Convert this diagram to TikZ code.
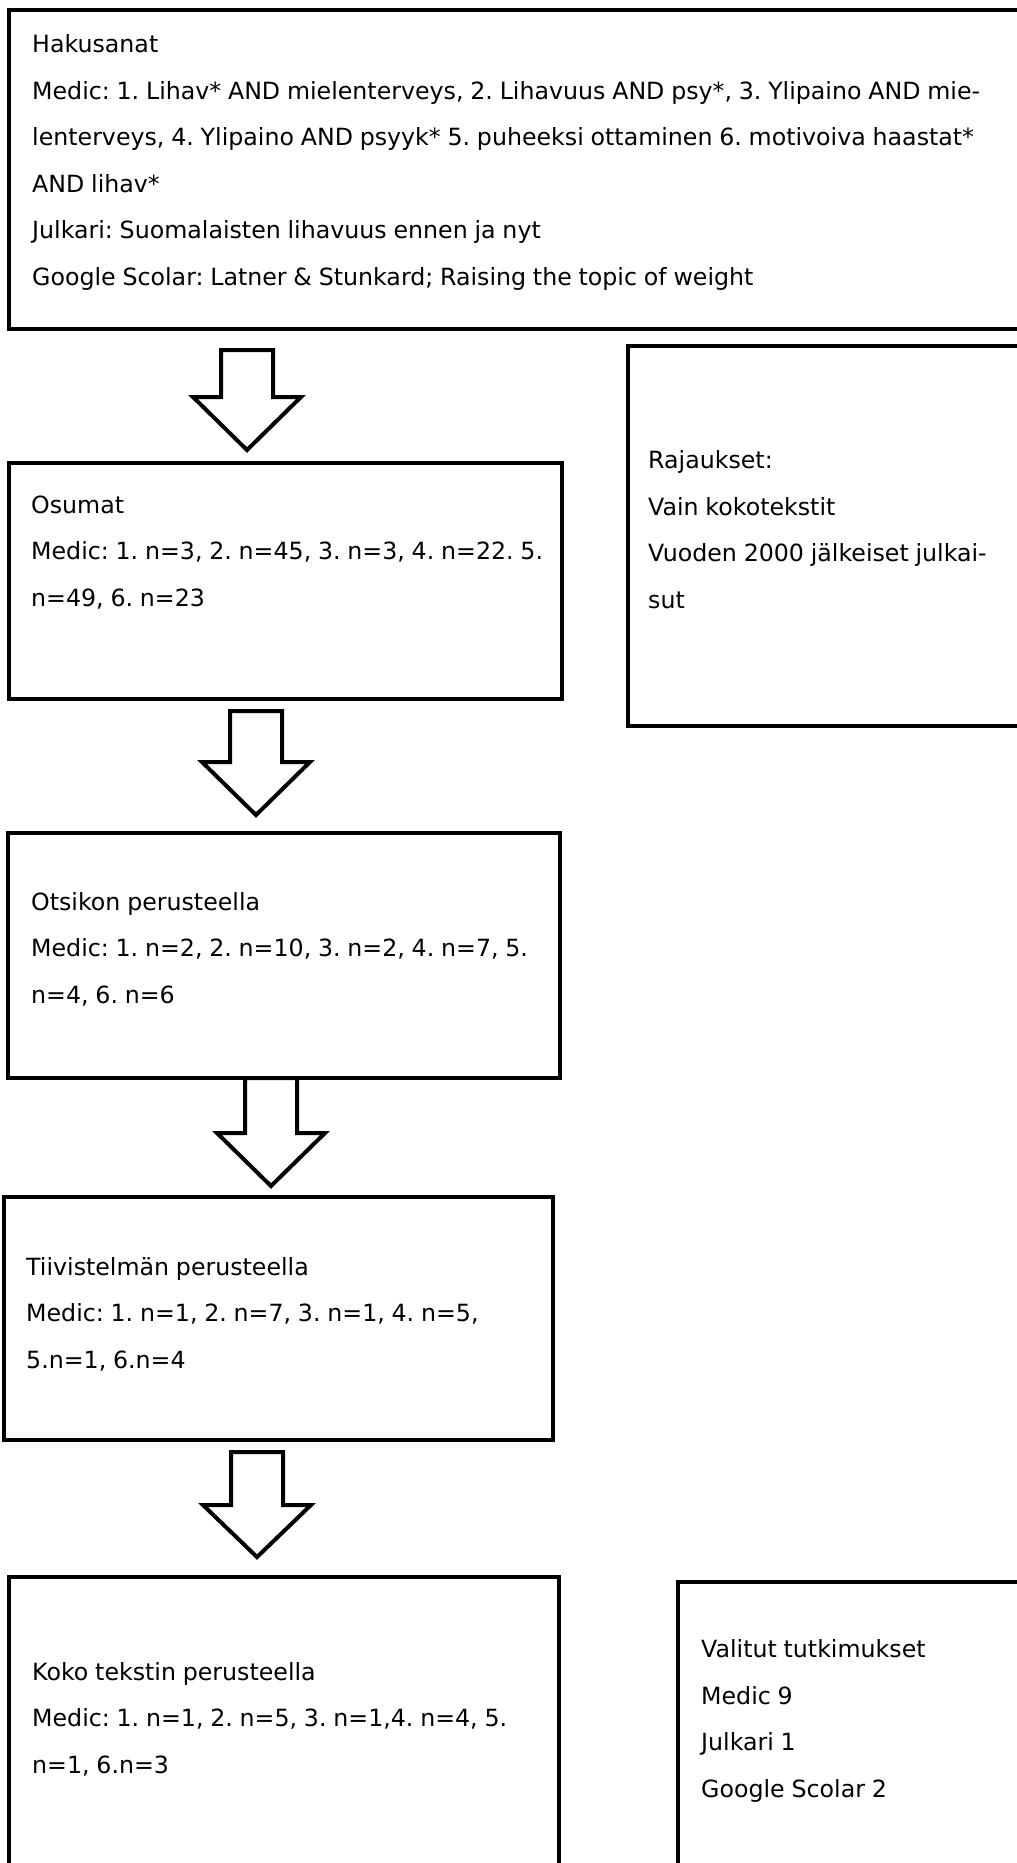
\documentclass[tikz,border=0pt]{standalone}
\usepackage{fontspec}
\setmainfont{DejaVu Sans}[WordSpace=0.9]
\frenchspacing
\usetikzlibrary{positioning}
% block arrow: centre x, top, head line, tip
\newcommand{\blkarrow}[4]{%
  \draw[arrowline] (#1-26,#2) -- (#1+26,#2) -- (#1+26,#3) -- (#1+54,#3)
    -- (#1,#4) -- (#1-54,#3) -- (#1-26,#3) -- cycle;}

\begin{document}
\begin{tikzpicture}[x=1pt, y=-1pt,
  box/.style={draw, line width=4.8pt, anchor=north west, inner sep=0pt, outer sep=0pt},
  txt/.style={anchor=base west, align=left, inner sep=0pt, font=\fontsize{23.7}{46.5}\selectfont},
  arrowline/.style={draw, line width=4pt, line join=miter, fill=white}]
  \useasboundingbox (0,0) rectangle (1017,1863);
  \clip (0,0) rectangle (1017,1863);

  \node[box, minimum width=1031pt, minimum height=319pt] (haku) at (9,10) {};
  \node[box, minimum width=420pt, minimum height=380pt] (rajaus) at (628,346) {};
  \node[box, minimum width=553pt, minimum height=236pt] (osumat) at (9,463) {};
  \node[box, minimum width=552pt, minimum height=245pt] (otsikko) at (8,833) {};
  \node[box, minimum width=549pt, minimum height=243pt] (tiivis) at (4,1197) {};
  \node[box, minimum width=550pt, minimum height=320pt] (koko) at (9,1577) {};
  \node[box, minimum width=370pt, minimum height=320pt] (valitut) at (678,1582) {};

  % texts are placed at the baseline of their last line
  \node[txt] (hakuT) at (32,285) {Hakusanat\\
    Medic: 1. Lihav* AND mielenterveys, 2. Lihavuus AND psy*, 3. Ylipaino AND mie-\\
    lenterveys, 4. Ylipaino AND psyyk* 5. puheeksi ottaminen 6. motivoiva haastat*\\
    AND lihav*\\
    Julkari: Suomalaisten lihavuus ennen ja nyt\\
    Google Scolar: Latner \& Stunkard; Raising the topic of weight};
  \node[txt] (rajausT) at (648,608) {Rajaukset:\\
    Vain kokotekstit\\
    Vuoden 2000 jälkeiset julkai-\\
    sut};
  \node[txt] (osumatT) at (31,606) {Osumat\\
    Medic: 1. n=3, 2. n=45, 3. n=3, 4. n=22. 5.\\
    n=49, 6. n=23};
  \node[txt] (otsikkoT) at (31,1003) {Otsikon perusteella\\
    Medic: 1. n=2, 2. n=10, 3. n=2, 4. n=7, 5.\\
    n=4, 6. n=6};
  \node[txt] (tiivisT) at (26,1368) {Tiivistelmän perusteella\\
    Medic: 1. n=1, 2. n=7, 3. n=1, 4. n=5,\\
    5.n=1, 6.n=4};
  \node[txt] (kokoT) at (32,1773) {Koko tekstin perusteella\\
    Medic: 1. n=1, 2. n=5, 3. n=1,4. n=4, 5.\\
    n=1, 6.n=3};
  \node[txt] (valitutT) at (701,1797) {Valitut tutkimukset\\
    Medic 9\\
    Julkari 1\\
    Google Scolar 2};

  \blkarrow{247}{350}{397}{450}
  \blkarrow{256}{711}{762}{815}
  \blkarrow{271}{1078}{1133}{1186}
  \blkarrow{257}{1452}{1505}{1557}
\end{tikzpicture}
\end{document}
